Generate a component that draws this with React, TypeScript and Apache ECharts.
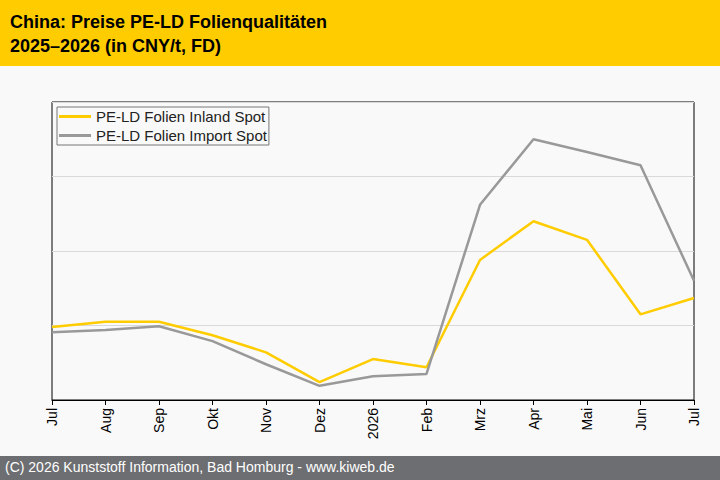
import { useEffect, useRef } from "react";
import * as echarts from "echarts";

const months = ["Jul", "Aug", "Sep", "Okt", "Nov", "Dez", "2026", "Feb", "Mrz", "Apr", "Mai", "Jun", "Jul"];
const inland = [98, 105, 105, 87, 64, 24, 55, 44, 188, 240, 215, 115, 137];
const importSpot = [91, 94, 99, 79, 48, 19, 32, 35, 262, 350, 333, 315, 160];

export default function App() {
  const ref = useRef<HTMLDivElement>(null);

  useEffect(() => {
    if (!ref.current) return;
    const chart = echarts.init(ref.current, null, { renderer: "svg" });
    const font = "Arial, 'Liberation Sans', sans-serif";
    chart.setOption({
      animation: false,
      backgroundColor: "#f9f9f9",
      textStyle: { fontFamily: font },
      graphic: [
        { type: "rect", left: 0, top: 0, shape: { width: 720, height: 66 }, style: { fill: "#ffcc00" } },
        {
          type: "text", left: 10, top: 10,
          style: { text: "China: Preise PE-LD Folienqualitäten\n2025–2026 (in CNY/t, FD)", font: `bold 18px ${font}`, fill: "#000", lineHeight: 24 },
        },
        { type: "rect", left: 0, top: 456, shape: { width: 720, height: 24 }, style: { fill: "#6d6e71" } },
        {
          type: "text", left: 5, top: 460,
          style: { text: "(C) 2026 Kunststoff Information, Bad Homburg - www.kiweb.de", font: `14px ${font}`, fill: "#fff" },
        },
      ],
      legend: {
        left: 57, top: 107, orient: "vertical", itemGap: 4,
        itemWidth: 32, itemHeight: 3, icon: "rect",
        borderColor: "#777", borderWidth: 1, padding: [2, 2, 2, 2],
        backgroundColor: "#f9f9f9",
        textStyle: { fontSize: 15, color: "#222", fontFamily: font },
        data: ["PE-LD Folien Inland Spot", "PE-LD Folien Import Spot"],
      },
      grid: { left: 52, right: 26, top: 102, bottom: 80, show: true, borderColor: "#000", borderWidth: 1 },
      xAxis: {
        type: "category", data: months, boundaryGap: false,
        axisLine: { lineStyle: { color: "#000" } },
        axisTick: { show: true, length: 5, lineStyle: { color: "#000" } },
        axisLabel: { rotate: 90, color: "#000", fontSize: 14, interval: 0, fontFamily: font },
      },
      yAxis: {
        type: "value", min: 0, max: 400, interval: 100,
        axisLabel: { show: false }, axisLine: { show: false }, axisTick: { show: false },
        splitLine: { lineStyle: { color: "#d9d9d9" } },
      },
      series: [
        { name: "PE-LD Folien Inland Spot", type: "line", data: inland, symbol: "none", lineStyle: { color: "#ffcc00", width: 2.5 }, itemStyle: { color: "#ffcc00" } },
        { name: "PE-LD Folien Import Spot", type: "line", data: importSpot, symbol: "none", lineStyle: { color: "#999999", width: 2.5 }, itemStyle: { color: "#999999" } },
      ],
    });
    return () => chart.dispose();
  }, []);

  return <div ref={ref} style={{ position: "absolute", left: 0, top: 0, width: 720, height: 480 }} />;
}
